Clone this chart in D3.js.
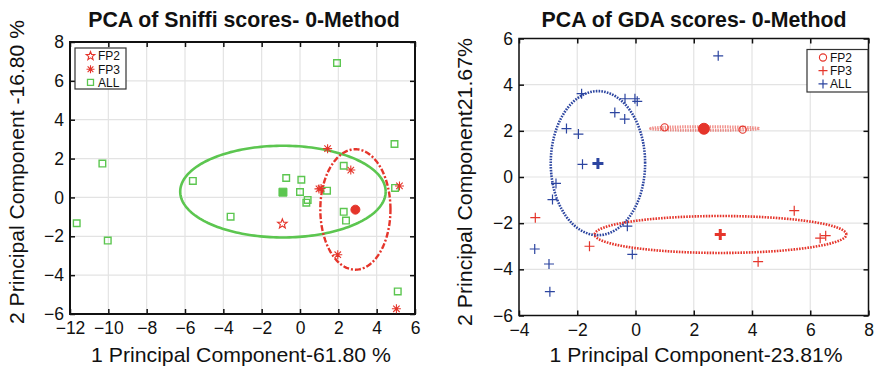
<!doctype html>
<html>
<head>
<meta charset="utf-8">
<script src="https://d3js.org/d3.v7.min.js"></script>
<style>
  body { margin: 0; background: #fff; }
  text { font-family: "Liberation Sans", Arial, sans-serif; }
</style>
</head>
<body>
<script>
// ---- data ----
// Sniffi panel
var sniffiAllX = [-10.31, -5.59, -3.62, -11.65, -10.03, 1.93, 4.93, 2.28, -0.72, 0.07, 0.00, 1.41, 0.40, 0.33, 2.28, 2.40, 4.96, 5.10];
var sniffiAllY = [1.74, 0.85, -0.99, -1.33, -2.22, 6.92, 2.75, 1.63, 1.00, 0.91, 0.28, 0.35, -0.13, -0.27, -0.74, -1.19, 0.49, -4.84];
var sniffiFp2X = [-0.92];
var sniffiFp2Y = [-1.36];
var sniffiFp3X = [1.44, 2.65, 0.99, 1.10, 5.19, 1.97, 5.03];
var sniffiFp3Y = [2.51, 1.41, 0.44, 0.46, 0.59, -2.95, -5.73];
var sniffiAllMean = [-0.89, 0.27];
var sniffiFp3Mean = [2.89, -0.63];
// ellipses: [cx, cy, rx, ry]
var sniffiAllEllipse = [-0.89, 0.30, 5.36, 2.36];
var sniffiFp3Ellipse = [2.89, -0.62, 1.83, 3.10];

// GDA panel
var gdaAllX = [-1.85, -0.36, -0.02, 0.06, -0.71, -0.37, -2.37, -1.96, -1.82, 2.84, -2.73, -2.85, -3.46, -2.97, -2.94, -0.28, -0.11];
var gdaAllY = [3.61, 3.39, 3.39, 3.28, 2.79, 2.51, 2.10, 1.86, 0.55, 5.25, -0.28, -0.98, -3.12, -3.77, -4.97, -2.13, -3.35];
var gdaFp2X = [1.00, 3.68];
var gdaFp2Y = [2.15, 2.05];
var gdaFp3X = [-3.44, -1.58, 5.45, 6.34, 6.53, 4.21];
var gdaFp3Y = [-1.76, -3.00, -1.46, -2.65, -2.54, -3.67];
var gdaAllMean = [-1.29, 0.59];
var gdaFp2Mean = [2.35, 2.09];
var gdaFp3Mean = [2.91, -2.49];
var gdaAllEllipse = [-1.29, 0.60, 1.62, 3.12];
var gdaFp2Ellipse = [2.37, 2.10, 1.85, 0.08];
var gdaFp3Ellipse = [2.92, -2.49, 4.32, 0.80];

// ticks
var sniffiXTicks = [-12, -10, -8, -6, -4, -2, 0, 2, 4, 6];
var sniffiYTicks = [-6, -4, -2, 0, 2, 4, 6, 8];
var gdaXTicks = [-4, -2, 0, 2, 4, 6, 8];
var gdaYTicks = [-6, -4, -2, 0, 2, 4, 6];

var legendLabels = ["FP2", "FP3", "ALL"];

var RED = "#e5352b", GREEN = "#5cc650", BLUE = "#2c45a0";

var svg = d3.select("body").append("svg")
    .attr("width", 875)
    .attr("height", 375);

function zip(xs, ys) { return xs.map(function(v, i) { return [v, ys[i]]; }); }

// marker shapes, drawn around 0,0
function marker(type, r) {
  var p = d3.path();
  if (type == "plus") {
    p.moveTo(-r, 0); p.lineTo(r, 0); p.moveTo(0, -r); p.lineTo(0, r);
  } else if (type == "asterisk") {
    var k = r * 0.72;
    p.moveTo(-r, 0); p.lineTo(r, 0); p.moveTo(0, -r); p.lineTo(0, r);
    p.moveTo(-k, -k); p.lineTo(k, k); p.moveTo(-k, k); p.lineTo(k, -k);
  } else if (type == "square") {
    p.rect(-r, -r, 2 * r, 2 * r);
  } else if (type == "circle") {
    p.arc(0, 0, r, 0, 2 * Math.PI);
  } else if (type == "star") {
    for (var i = 0; i < 10; i++) {
      var a = -Math.PI / 2 + i * Math.PI / 5, rr = i % 2 ? r * 0.42 : r;
      if (i == 0) p.moveTo(rr * Math.cos(a), rr * Math.sin(a));
      else p.lineTo(rr * Math.cos(a), rr * Math.sin(a));
    }
    p.closePath();
  }
  return p.toString();
}

function panel(o) {
  var x = d3.scaleLinear().domain(o.xDomain).range([o.left, o.right]);
  var y = d3.scaleLinear().domain(o.yDomain).range([o.bottom, o.top]);
  var g = svg.append("g");

  // grid
  g.selectAll(".gx").data(o.xTicks).enter().append("line")
      .attr("x1", function(d) { return x(d); }).attr("x2", function(d) { return x(d); })
      .attr("y1", o.top).attr("y2", o.bottom)
      .attr("stroke", "#e3e3e3").attr("stroke-width", 1.2);
  g.selectAll(".gy").data(o.yTicks).enter().append("line")
      .attr("y1", function(d) { return y(d); }).attr("y2", function(d) { return y(d); })
      .attr("x1", o.left).attr("x2", o.right)
      .attr("stroke", "#e3e3e3").attr("stroke-width", 1.2);

  // axes, ticks pointing inward
  var ax = [
    [d3.axisBottom(x), "translate(0," + o.bottom + ")"],
    [d3.axisTop(x).tickFormat(""), "translate(0," + o.top + ")"],
    [d3.axisLeft(y), "translate(" + o.left + ",0)"],
    [d3.axisRight(y).tickFormat(""), "translate(" + o.right + ",0)"]
  ];
  ax.forEach(function(a, i) {
    var axis = a[0].tickValues(i < 2 ? o.xTicks : o.yTicks)
        .tickSizeInner(-5).tickSizeOuter(0).tickPadding(i == 0 ? 8 : 6);
    var s = g.append("g").attr("transform", a[1]).call(axis);
    s.attr("font-family", null).attr("font-size", null);
    s.select(".domain").remove();
    s.selectAll(".tick line").attr("stroke", "#111").attr("stroke-width", 1.5);
    s.selectAll(".tick text").attr("font-size", "17.5px").attr("fill", "#111");
  });
  g.append("rect")
      .attr("x", o.left).attr("y", o.top)
      .attr("width", o.right - o.left).attr("height", o.bottom - o.top)
      .attr("fill", "none").attr("stroke", "#111").attr("stroke-width", o.frame);

  // ellipses
  var ell = d3.line().x(function(d) { return x(d[0]); }).y(function(d) { return y(d[1]); });
  o.ellipses.forEach(function(e) {
    var p = e.params, pts = [];
    for (var i = 0; i <= 200; i++) {
      var t = i / 200 * 2 * Math.PI;
      pts.push([p[0] + p[2] * Math.cos(t), p[1] + p[3] * Math.sin(t)]);
    }
    g.append("path").attr("d", ell(pts))
        .attr("fill", "none").attr("stroke", e.color)
        .attr("stroke-width", e.width).attr("stroke-dasharray", e.dash)
        .attr("opacity", e.opacity || 1);
  });

  // points
  o.series.forEach(function(s) {
    g.selectAll(null).data(s.data).enter().append("path")
        .attr("transform", function(d) { return "translate(" + x(d[0]) + "," + y(d[1]) + ")"; })
        .attr("d", marker(s.type, s.r))
        .attr("fill", s.fill || "none")
        .attr("stroke", s.color).attr("stroke-width", s.width);
  });

  // title and labels
  svg.append("text").attr("x", o.titleX).attr("y", 26.5)
      .attr("text-anchor", "middle").attr("font-size", "21.3px").attr("font-weight", "bold")
      .attr("fill", "#111").text(o.title);
  svg.append("text").attr("x", o.xLabelX).attr("y", 362)
      .attr("text-anchor", "middle").attr("font-size", "21px")
      .attr("textLength", o.xLabelLen).attr("lengthAdjust", "spacingAndGlyphs")
      .attr("fill", "#111").text(o.xLabel);
  svg.append("text")
      .attr("transform", "translate(" + o.yLabelX + "," + o.yLabelY + ") rotate(-90)")
      .attr("text-anchor", "middle").attr("font-size", "21px")
      .attr("textLength", o.yLabelLen).attr("lengthAdjust", "spacingAndGlyphs")
      .attr("fill", "#111").text(o.yLabel);

  // legend
  var L = o.legend;
  g.append("rect").attr("x", L.x).attr("y", L.y).attr("width", L.w).attr("height", L.h)
      .attr("fill", "#fff").attr("stroke", "#333").attr("stroke-width", 1.2);
  legendLabels.forEach(function(lab, i) {
    var m = L.markers[i], yy = L.y + 8 + i * 13.2;
    g.append("path").attr("transform", "translate(" + (L.x + L.mx) + "," + yy + ")")
        .attr("d", marker(m.type, m.r)).attr("fill", "none")
        .attr("stroke", m.color).attr("stroke-width", m.width);
    g.append("text").attr("x", L.x + L.tx).attr("y", yy + 4.3)
        .attr("font-size", "12px").attr("fill", "#111").text(lab);
  });
}

panel({
  left: 70, right: 415, top: 42, bottom: 314,
  xDomain: [-12, 6], yDomain: [-6, 8],
  xTicks: sniffiXTicks, yTicks: sniffiYTicks, frame: 2,
  title: "PCA of Sniffi scores- 0-Method", titleX: 244,
  xLabel: "1 Principal Component-61.80 %", xLabelX: 241, xLabelLen: 300,
  yLabel: "2 Principal Component -16.80 %",
  yLabelX: 24, yLabelY: 172, yLabelLen: 304,
  ellipses: [
    {params: sniffiAllEllipse, color: GREEN, width: 2.6, dash: null},
    {params: sniffiFp3Ellipse, color: RED, width: 2.4, dash: "6,2,2,2"}
  ],
  series: [
    {data: zip(sniffiAllX, sniffiAllY), type: "square", r: 3.3, color: GREEN, width: 1.4},
    {data: [sniffiAllMean], type: "square", r: 4, color: GREEN, width: 1, fill: GREEN},
    {data: zip(sniffiFp2X, sniffiFp2Y), type: "star", r: 5, color: RED, width: 1.1},
    {data: zip(sniffiFp3X, sniffiFp3Y), type: "asterisk", r: 4.5, color: RED, width: 1.1},
    {data: [sniffiFp3Mean], type: "circle", r: 4.5, color: RED, width: 1, fill: RED}
  ],
  legend: {x: 75, y: 48, w: 51, h: 41, mx: 15.5, tx: 23,
    markers: [{type: "star", r: 4.5, color: RED, width: 1.1},
              {type: "asterisk", r: 4, color: RED, width: 1.1},
              {type: "square", r: 3, color: GREEN, width: 1.3}]}
});

panel({
  left: 519, right: 868.5, top: 38.5, bottom: 315.5,
  xDomain: [-4, 8], yDomain: [-6, 6],
  xTicks: gdaXTicks, yTicks: gdaYTicks, frame: 1.5,
  title: "PCA of GDA scores- 0-Method", titleX: 694,
  xLabel: "1 Principal Component-23.81%", xLabelX: 696, xLabelLen: 293,
  yLabel: "2 Principal Component21.67%",
  yLabelX: 472, yLabelY: 182, yLabelLen: 288,
  ellipses: [
    {params: gdaAllEllipse, color: BLUE, width: 2.6, dash: "1.6,1.2"},
    {params: gdaFp3Ellipse, color: RED, width: 2.6, dash: "1.6,1.2"},
    {params: gdaFp2Ellipse, color: RED, width: 3, dash: "1.4,1.1", opacity: 0.55}
  ],
  series: [
    {data: zip(gdaAllX, gdaAllY), type: "plus", r: 5, color: BLUE, width: 1.2},
    {data: [gdaAllMean], type: "plus", r: 5.5, color: BLUE, width: 3},
    {data: zip(gdaFp2X, gdaFp2Y), type: "circle", r: 3.6, color: RED, width: 1.1},
    {data: [gdaFp2Mean], type: "circle", r: 5.5, color: RED, width: 1, fill: RED},
    {data: zip(gdaFp3X, gdaFp3Y), type: "plus", r: 5, color: RED, width: 1.2},
    {data: [gdaFp3Mean], type: "plus", r: 5.5, color: RED, width: 3}
  ],
  legend: {x: 807, y: 49.5, w: 61, h: 42.5, mx: 16, tx: 23,
    markers: [{type: "circle", r: 3.6, color: RED, width: 1.1},
              {type: "plus", r: 4.5, color: RED, width: 1.2},
              {type: "plus", r: 4.5, color: BLUE, width: 1.2}]}
});
</script>
</body>
</html>
